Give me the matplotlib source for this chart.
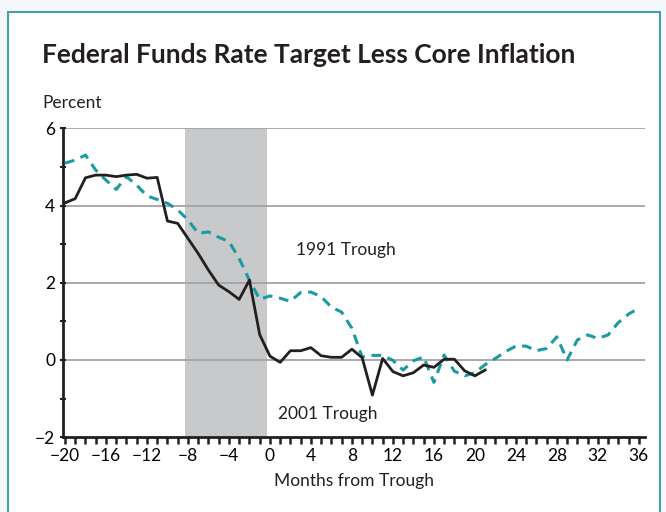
import numpy as np
import matplotlib.pyplot as plt
from matplotlib.patches import Rectangle

# months relative to the trough
months_2001 = list(range(-20, 22))
rate_2001 = [4.07, 4.18, 4.72, 4.79, 4.79, 4.75, 4.79, 4.81, 4.71, 4.73,
             3.60, 3.54, 3.15, 2.76, 2.33, 1.94, 1.77, 1.57, 2.07, 0.66,
             0.10, -0.06, 0.24, 0.24, 0.32, 0.11, 0.07, 0.07, 0.28, 0.06,
             -0.91, 0.04, -0.30, -0.41, -0.33, -0.13, -0.19, 0.02, 0.02, -0.28,
             -0.41, -0.26]

months_1991 = list(range(-20, 37))
rate_1991 = [5.10, 5.18, 5.31, 4.92, 4.66, 4.42, 4.75, 4.53, 4.25, 4.16,
             4.06, 3.89, 3.63, 3.28, 3.32, 3.18, 3.07, 2.63, 2.07, 1.57,
             1.66, 1.60, 1.52, 1.75, 1.76, 1.64, 1.37, 1.24, 0.82, 0.08,
             0.12, 0.12, -0.01, -0.26, -0.02, 0.08, -0.58, 0.13, -0.29, -0.41,
             -0.33, -0.12, 0.04, 0.22, 0.36, 0.36, 0.24, 0.30, 0.60, 0.0,
             0.52, 0.65, 0.56, 0.65, 0.97, 1.19, 1.34]

recession = (-8.25, -0.25)
xticks = list(range(-20, 37, 4))
yticks = [-2, 0, 2, 4, 6]

plt.rcParams['font.family'] = ['Lato', 'DejaVu Sans']

fig = plt.figure(figsize=(6.66, 5.12), dpi=100)
fig.patch.set_facecolor('#f4f8fa')
# white panel with teal border
panel = Rectangle((8/666, -0.05), 652/666, 1 - 12/512 + 0.05,
                  transform=fig.transFigure, facecolor='white',
                  edgecolor='#4a9ea8', linewidth=1.5, zorder=-5)
fig.add_artist(panel)

ax = fig.add_axes([62.7/666, 1 - 437.2/512, (645 - 62.7)/666, (437.2 - 128.4)/512])
ax.set_zorder(2)
ax.set_xlim(-20.22, 36.6)
ax.set_ylim(-2, 6)

ax.axvspan(recession[0], recession[1], color='#c8c9cb', lw=0, zorder=0)
for y in [0, 2, 4, 6]:
    ax.axhline(y, color='#a3a3a3', lw=1.3, zorder=1)

ax.plot(months_1991, rate_1991, color='#1a9ba3', lw=2.2, ls=(0, (3.2, 2.2)), zorder=3)
ax.plot(months_2001, rate_2001, color='#231f20', lw=2.0, zorder=4)

ax.text(2.5, 2.85, '1991 Trough', fontsize=12.5, color='#231f20', va='center')
ax.text(0.8, -1.4, '2001 Trough', fontsize=12.5, color='#231f20', va='center')

for s in ['top', 'right']:
    ax.spines[s].set_visible(False)
for s in ['left', 'bottom']:
    ax.spines[s].set_linewidth(2)
    ax.spines[s].set_color('#231f20')

ax.set_xticks(xticks)
ax.set_xticklabels([str(t).replace('-', '\u2212') for t in xticks])
ax.set_xticks(range(-20, 37), minor=True)
ax.set_yticks(yticks)
ax.set_yticklabels([str(t).replace('-', '\u2212') for t in yticks])
ax.set_yticks([-1, 1, 3, 5], minor=True)
ax.tick_params(axis='x', which='both', direction='out', length=5, width=1.8,
               color='#231f20', labelsize=12.5, pad=3)
ax.tick_params(axis='y', which='both', direction='inout', length=5, width=1.5,
               color='#231f20', labelsize=12.5, pad=3)
ax.set_facecolor('none')

ax.set_xlabel('Months from Trough', fontsize=12.5, color='#231f20', labelpad=6)

fig.text(42/666, 1 - 55/512, 'Federal Funds Rate Target Less Core Inflation',
         fontsize=19, fontweight='bold', color='#231f20', va='center')
fig.text(42/666, 1 - 103/512, 'Percent', fontsize=12.5, color='#231f20', va='center')

fig.savefig('out.png', dpi=100)
